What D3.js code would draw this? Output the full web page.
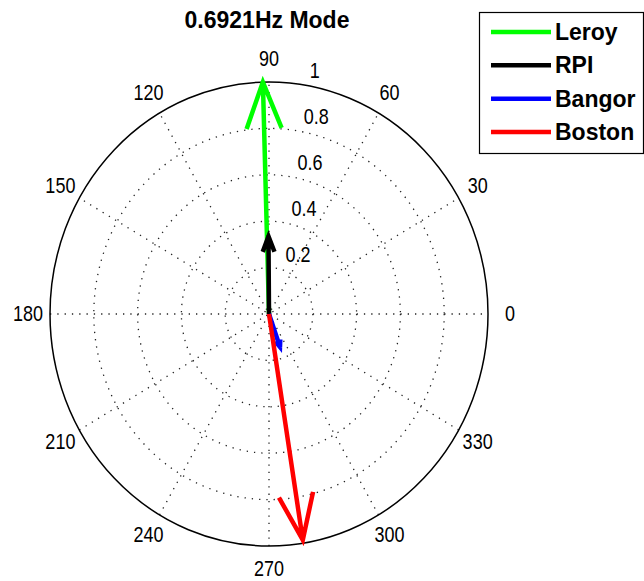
<!DOCTYPE html>
<html>
<head>
<meta charset="utf-8">
<script src="https://cdn.jsdelivr.net/npm/d3@7"></script>
<style>
  body{margin:0;background:#fff;}
  svg{display:block;}
  text{font-family:"Liberation Sans",Arial,sans-serif;fill:#000;}
</style>
</head>
<body>
<svg width="644" height="581"></svg>
<script>
// data
const stations = ['Leroy','RPI','Bangor','Boston'];
const magnitudes = [1.0, 0.335, 0.151, 0.986];
const anglesDeg = [91.6, 90.4, 289.4, 279.0];
const colors = ['#00ff00','#000000','#0000ff','#ff0000'];
const ringValues = [0.2,0.4,0.6,0.8,1];
const ringLabels = ['0.2','0.4','0.6','0.8','1'];
const spokeAngles = [0,30,60,90,120,150];
const angleLabels = [0,30,60,90,120,150,180,210,240,270,300,330];

const svg=d3.select('svg');
const cx=269, cy=314, rx=219, ry=232;

const x=d3.scaleLinear().domain([-1,1]).range([cx-rx,cx+rx]);
const y=d3.scaleLinear().domain([-1,1]).range([cy+ry,cy-ry]);
const rad=d=>d*Math.PI/180;

// title
svg.append('text')
   .attr('x',267).attr('y',28)
   .attr('text-anchor','middle')
   .style('font-size','23px').style('font-weight','bold')
   .text('0.6921Hz Mode');

// dotted rings
svg.selectAll('.ring')
   .data(ringValues.slice(0,-1))
   .enter().append('ellipse')
     .attr('cx',x(0)).attr('cy',y(0))
     .attr('rx',d=>x(d)-x(0)).attr('ry',d=>y(0)-y(d))
     .attr('fill','none').attr('stroke','#222')
     .attr('stroke-width',1.3).attr('stroke-dasharray','1.3,6');

// dotted spokes
svg.selectAll('.spoke')
   .data(spokeAngles)
   .enter().append('line')
     .attr('x1',d=>x(-Math.cos(rad(d)))).attr('y1',d=>y(-Math.sin(rad(d))))
     .attr('x2',d=>x(Math.cos(rad(d)))).attr('y2',d=>y(Math.sin(rad(d))))
     .attr('stroke','#222').attr('stroke-width',1.3).attr('stroke-dasharray','1.3,6');

// outer circle
svg.append('ellipse')
   .attr('cx',x(0)).attr('cy',y(0))
   .attr('rx',x(1)-x(0)).attr('ry',y(0)-y(1))
   .attr('fill','none').attr('stroke','#000').attr('stroke-width',1.5);

// ring labels at 82 deg
const a82=rad(82);
svg.selectAll('.rlab')
   .data(ringValues)
   .enter().append('text')
     .attr('transform',(d,i)=>`translate(${x((d+0.01)*Math.cos(a82))+10},${y((d+0.01)*Math.sin(a82))-4}) scale(1,1.18)`)
     .style('font-size','18px')
     .text((d,i)=>ringLabels[i]);

// angle labels
svg.selectAll('.alab')
   .data(angleLabels)
   .enter().append('text')
     .attr('transform',d=>`translate(${x(1.1*Math.cos(rad(d)))},${y(1.1*Math.sin(rad(d)))+7}) scale(1,1.18)`)
     .attr('text-anchor','middle')
     .style('font-size','18px')
     .text(d=>d);

// compass arrows
const arrows=stations.map((s,i)=>{
  const a=rad(anglesDeg[i]), m=magnitudes[i];
  const zx=m*Math.cos(a), zy=m*Math.sin(a);
  // head: 0.8z +/- 0.08 i z
  const pts=[[0,0],[zx,zy],[0.8*zx-0.08*zy,0.8*zy+0.08*zx],[zx,zy],[0.8*zx+0.08*zy,0.8*zy-0.08*zx]];
  return {name:s,color:colors[i],pts:pts};
});
const line=d3.line().x(d=>x(d[0])).y(d=>y(d[1]));
svg.selectAll('.arrow')
   .data(arrows)
   .enter().append('path')
     .attr('d',d=>line(d.pts))
     .attr('fill','none')
     .attr('stroke',d=>d.color)
     .attr('stroke-width',4.5)
     .attr('stroke-linejoin','miter')
     .attr('stroke-linecap','butt');

// legend
const lg=svg.append('g');
lg.append('rect')
  .attr('x',479.5).attr('y',12.5).attr('width',164).attr('height',141)
  .attr('fill','#fff').attr('stroke','#000').attr('stroke-width',1.2);
const ly=d3.scalePoint().domain(stations).range([32,132]);
lg.selectAll('.lline')
  .data(stations)
  .enter().append('line')
    .attr('x1',491).attr('x2',551)
    .attr('y1',d=>ly(d)).attr('y2',d=>ly(d))
    .attr('stroke',(d,i)=>colors[i]).attr('stroke-width',4.5);
lg.selectAll('.ltext')
  .data(stations)
  .enter().append('text')
    .attr('x',555).attr('y',d=>ly(d)+8)
    .style('font-size','23px').style('font-weight','bold')
    .text(d=>d);
</script>
</body>
</html>
